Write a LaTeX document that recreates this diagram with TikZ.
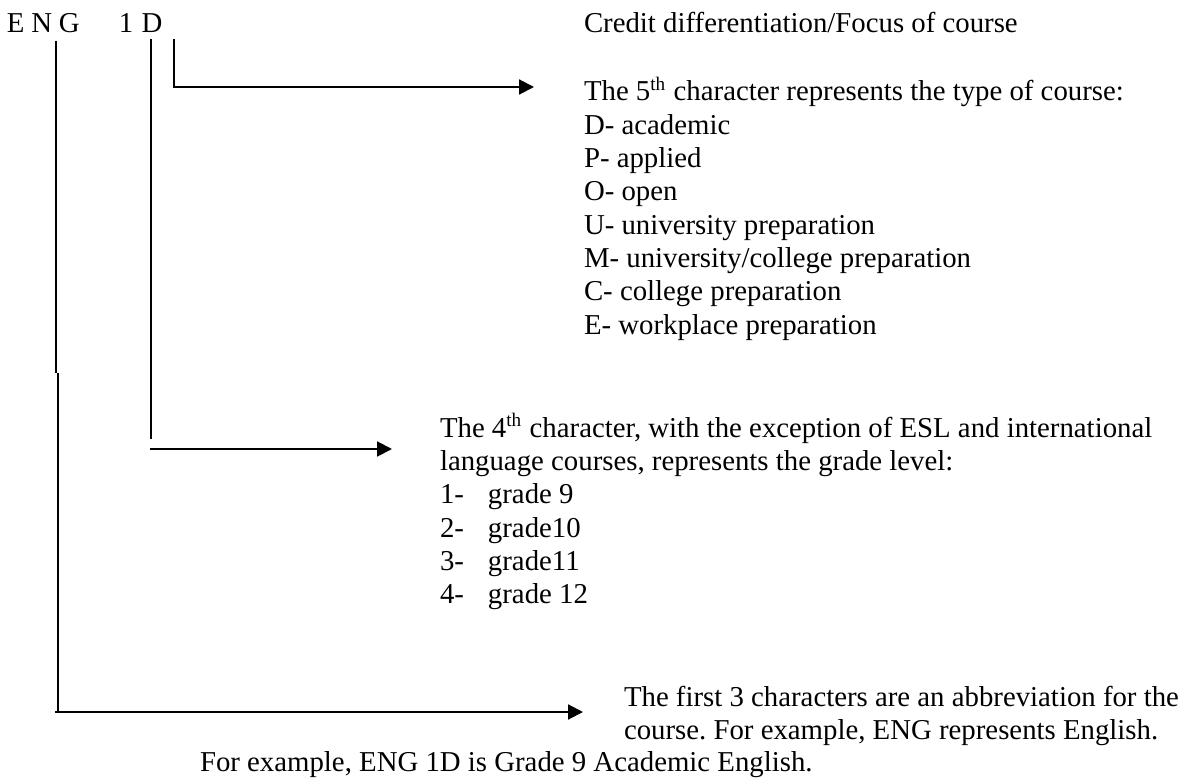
\documentclass[tikz,border=0pt]{standalone}
\usepackage{fontspec}
\setmainfont{Liberation Serif}
\usetikzlibrary{arrows.meta}
\frenchspacing
\begin{document}
\begin{tikzpicture}[x=0.4167pt,y=-0.4167pt,
  txt/.style={anchor=base west,inner sep=0pt,outer sep=0pt,font=\fontsize{12pt}{13.9pt}\selectfont},
  conn/.style={line width=0.85pt,black},
  arr/.style={conn,-{Triangle[length=6.2pt,width=6.2pt]}}]
\useasboundingbox (0,0) rectangle (1188,778);
% course code
\node[txt] (code) at (7,33) {\makebox[10.2pt][l]{E}\makebox[11.46pt][l]{N}\makebox[25pt][l]{G}\makebox[9.4pt][l]{1}D};
% connector anchor points
\coordinate (gTop) at (56,41);
\coordinate (gMid) at (56,373);
\coordinate (gMidB) at (58,373);
\coordinate (gBot) at (58,713);
\coordinate (gStart) at (55,712);
\coordinate (gTip) at (583,712);
\coordinate (nTop) at (151,39);
\coordinate (nBot) at (151,439);
\coordinate (nStart) at (150,449);
\coordinate (nTip) at (392,449);
\coordinate (dTop) at (174,39);
\coordinate (dTip) at (534,87);
% connectors
\draw[arr] (dTop) |- (dTip);
\draw[conn] (nTop) -- (nBot);
\draw[arr] (nStart) -- (nTip);
\draw[conn] (gTop) -- (gMid);
\draw[conn] (gMidB) -- (gBot);
\draw[arr] (gStart) -- (gTip);
% 5th character block
\node[txt] (focus) at (584,33) {Credit differentiation/Focus of course};
\node[txt] (fifth) at (584,100.7) {The 5\textsuperscript{th} character represents the type of course:};
\foreach \t [count=\i] in {D- academic,P- applied,O- open,U- university preparation,M- university/college preparation,C- college preparation,E- workplace preparation}
  \node[txt] (type\i) at (584,{100.7+33.35*\i}) {\t};
% 4th character block
\node[txt] (fourth) at (440,437) {The 4\textsuperscript{th} character, with the exception of ESL and international};
\node[txt] (fourthb) at (440,470.4) {language courses, represents the grade level:};
\foreach \n/\g [count=\i] in {1/grade 9,2/grade10,3/grade11,4/grade 12}
  \node[txt] (grade\i) at (440,{470.4+33.35*\i}) {\makebox[20pt][l]{\n-}\g};
% first 3 characters block
\node[txt] (first) at (624,706) {The first 3 characters are an abbreviation for the};
\node[txt] (firstb) at (624,739.4) {course. For example, ENG represents English.};
% example
\node[txt] (example) at (200,771) {For example, ENG 1D is Grade 9 Academic English.};
\end{tikzpicture}
\end{document}
